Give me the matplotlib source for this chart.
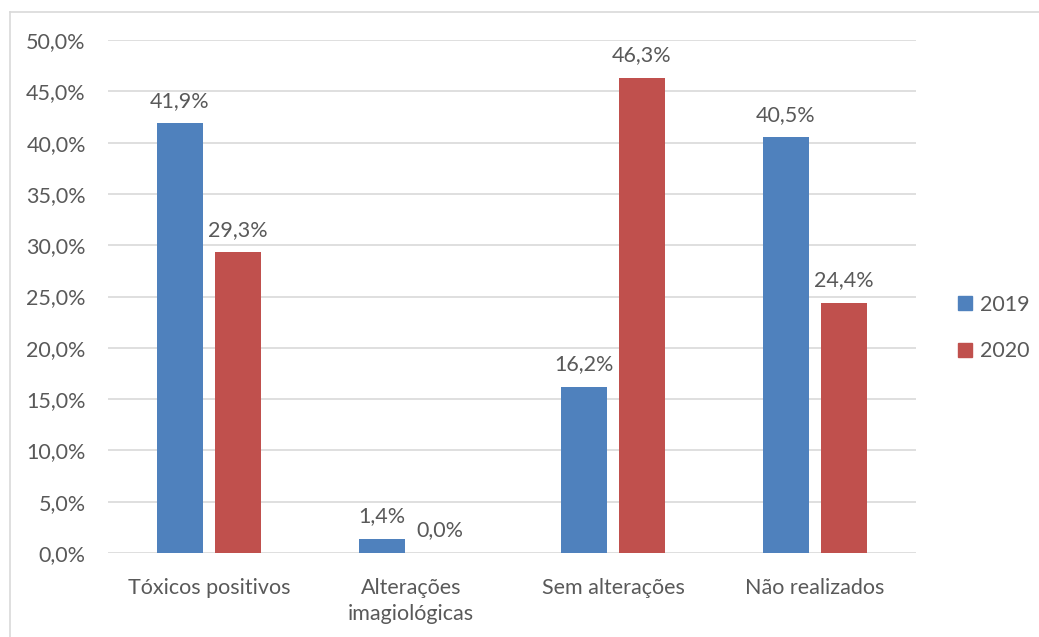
import matplotlib
matplotlib.use("Agg")
import matplotlib.pyplot as plt
from matplotlib.lines import Line2D
from matplotlib.patches import Rectangle
import numpy as np

categories = ["Tóxicos positivos", "Alterações\nimagiológicas", "Sem alterações", "Não realizados"]
series_names = ["2019", "2020"]
values_2019 = [41.9, 1.4, 16.2, 40.5]
values_2020 = [29.3, 0.0, 46.3, 24.4]
yticks = [0, 5, 10, 15, 20, 25, 30, 35, 40, 45, 50]

blue = "#4F81BD"
red = "#C0504D"
text_color = "#595959"
grid_color = "#D9D9D9"
fs = 15.5

plt.rcParams["font.family"] = ["Lato", "DejaVu Sans"]

W, H = 1039, 637
fig = plt.figure(figsize=(W / 100, H / 100), dpi=100)
ax = fig.add_axes([108 / W, 1 - 553 / H, (916 - 108) / W, (553 - 40) / H])

x = np.arange(len(categories))
bw = 0.228
off = 0.1436
for vals, color, sign in ((values_2019, blue, -1), (values_2020, red, 1)):
    bars = ax.bar(x + sign * off, vals, width=bw, color=color, zorder=3)
    for b, v in zip(bars, vals):
        ax.annotate(f"{v:.1f}%".replace(".", ","),
                    (b.get_x() + b.get_width() / 2, v),
                    xytext=(0, 9), textcoords="offset points",
                    ha="center", va="bottom", fontsize=fs, color=text_color)

ax.set_xlim(-0.5, len(categories) - 0.5)
ax.set_ylim(0, 50)
ax.set_yticks(yticks)
ax.set_yticklabels([f"{t:.1f}%".replace(".", ",") for t in yticks])
ax.set_xticks(x)
ax.set_xticklabels(categories, linespacing=1.4)
ax.tick_params(axis="both", length=0, labelsize=fs, labelcolor=text_color)
ax.tick_params(axis="y", pad=16)
ax.tick_params(axis="x", pad=18)
ax.grid(axis="y", color=grid_color, linewidth=1.2, zorder=0)
for s in ax.spines.values():
    s.set_visible(False)

# legend
handles = [Rectangle((0, 0), 1, 1, color=blue), Rectangle((0, 0), 1, 1, color=red)]
fig.legend(handles, series_names, loc="center left",
           bbox_to_anchor=(958 / W, 1 - 328 / H), frameon=False,
           fontsize=fs, labelcolor=text_color, handlelength=0.65, handleheight=0.65,
           handletextpad=0.35, labelspacing=1.25, borderpad=0, borderaxespad=0)

# chart border
fig.add_artist(Line2D([9.5 / W, 9.5 / W], [0, 1 - 11.5 / H], color="#D9D9D9", linewidth=1.2))
fig.add_artist(Line2D([9.5 / W, 1], [1 - 11.5 / H, 1 - 11.5 / H], color="#D9D9D9", linewidth=1.2))

fig.savefig("out.png", dpi=100)
